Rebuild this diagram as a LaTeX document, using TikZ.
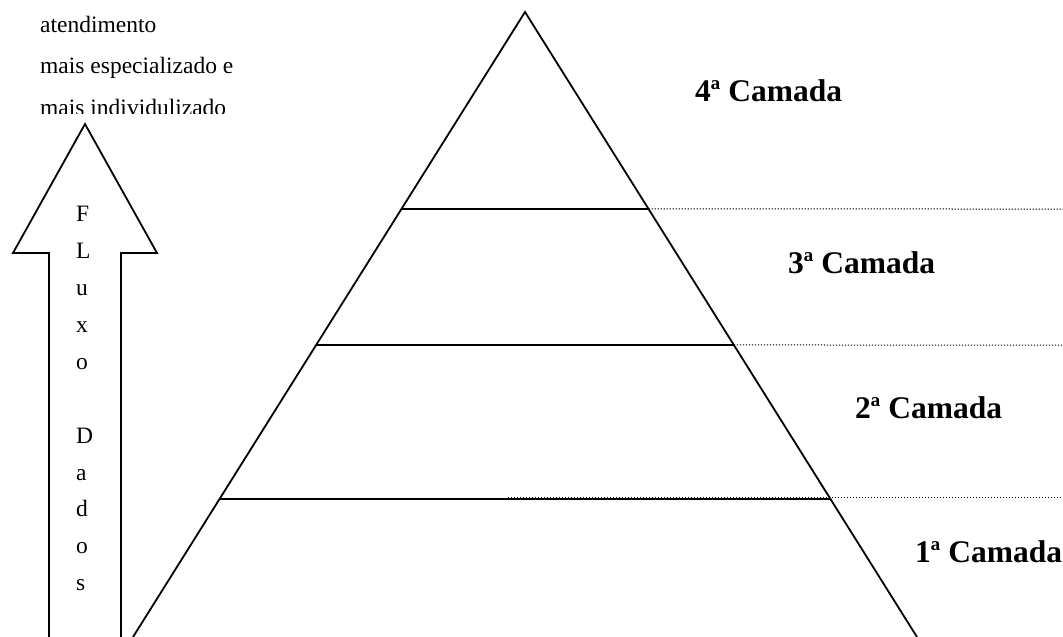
\documentclass[tikz,border=0pt]{standalone}
\usepackage{fontspec}
\setmainfont{Liberation Serif}
\usetikzlibrary{calc}
\begin{document}
\begin{tikzpicture}[x=1pt,y=-1pt,
  solidline/.style={line width=1.8pt, line join=miter},
  dotline/.style={line width=1pt, dash pattern=on 1.2pt off 1.8pt},
  plain/.style={inner sep=0pt, anchor=base west, font=\fontsize{23.5}{28}\selectfont},
  layer/.style={inner sep=0pt, anchor=base west, font=\fontsize{31.5}{36}\selectfont\bfseries}]
\useasboundingbox (0,0) rectangle (1063,637);
% pyramid
\coordinate (apex) at (525,12);
\coordinate (bl) at (133,637);
\coordinate (br) at (917,637);
\draw[solidline] (bl) -- (apex) -- (br);
\foreach \n/\y in {a/209, b/345, c/499} {
  \pgfmathsetmacro\t{(\y-12)/625}
  \coordinate (L\n) at ($(apex)!\t!(bl)$);
  \coordinate (R\n) at ($(apex)!\t!(br)$);
}
\coordinate (Ea) at (1063,209);
\coordinate (Eb) at (1063,345);
\coordinate (Sc) at (508,497);
\coordinate (Ec) at (1063,497);
\draw[solidline] (La) -- (Ra);
\draw[solidline] (Lb) -- (Rb);
\draw[solidline] (Lc) -- (Rc);
\draw[dotline] (Ra) -- (Ea);
\draw[dotline] (Rb) -- (Eb);
\draw[dotline] (Sc) -- (Ec);
% layer labels
\node[layer] (l4) at (695,101) {4ª Camada};
\node[layer] (l3) at (788,273) {3ª Camada};
\node[layer] (l2) at (855,418) {2ª Camada};
\node[layer] (l1) at (915,562) {1ª Camada};
% block arrow
\draw[solidline] (49,637) -- (49,253) -- (13,253) -- (85,124) -- (157,253) -- (121,253) -- (121,637);
\foreach \k/\c in {0/F,1/L,2/u,3/x,4/o,6/D,7/a,8/d,9/o,10/s} {
  \node[plain] (f\k) at (76,{221.7+36.9*\k}) {\c};
}
% top text, clipped at its box
\begin{scope}
  \clip (0,0) rectangle (320,113.3);
  \node[plain] (t1) at (40,32) {atendimento};
  \node[plain] (t2) at (40,73.5) {mais especializado e};
  \node[plain] (t3) at (40,115) {mais individulizado};
\end{scope}
\end{tikzpicture}
\end{document}
